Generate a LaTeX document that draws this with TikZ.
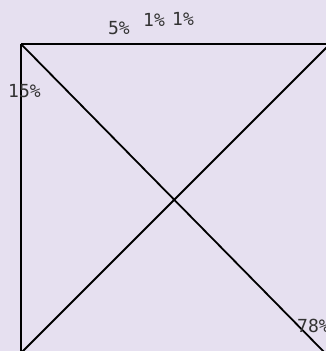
\documentclass[tikz,border=0pt]{standalone}
\usepackage{fontspec}
\newfontfamily\labelfont{DejaVu Sans Mono}
\definecolor{bg}{RGB}{230,224,240}
\definecolor{txt}{RGB}{51,51,51}
\begin{document}
\begin{tikzpicture}[x=1pt,y=-1pt,
  edge/.style={draw=black,line width=1.8pt},
  pct/.style={text=txt,font=\labelfont\fontsize{18}{20}\selectfont,inner sep=0pt,anchor=base}]
\useasboundingbox (0,0) rectangle (326,351);
\fill[bg] (0,0) rectangle (326,351);
\clip (0,0) rectangle (326,351);
\coordinate (tl) at (21,44);
\coordinate (tr) at (330,44);
\coordinate (bl) at (21,355);
\coordinate (br) at (327,355);
\coordinate (d2a) at (19,355);
\coordinate (d2b) at (330,44);
\draw[edge] (tl) -- (tr);
\draw[edge] (tl) -- (bl);
\draw[edge] (tl) -- (br);
\draw[edge] (d2a) -- (d2b);
\node[pct] (p5) at (119,34) {5\%};
\node[pct] (p1a) at (154,26) {1\%};
\node[pct] (p1b) at (183,25) {1\%};
\node[pct] (p15) at (24.5,97) {15\%};
\node[pct] (p78) at (313.5,332) {78\%};
\end{tikzpicture}
\end{document}
